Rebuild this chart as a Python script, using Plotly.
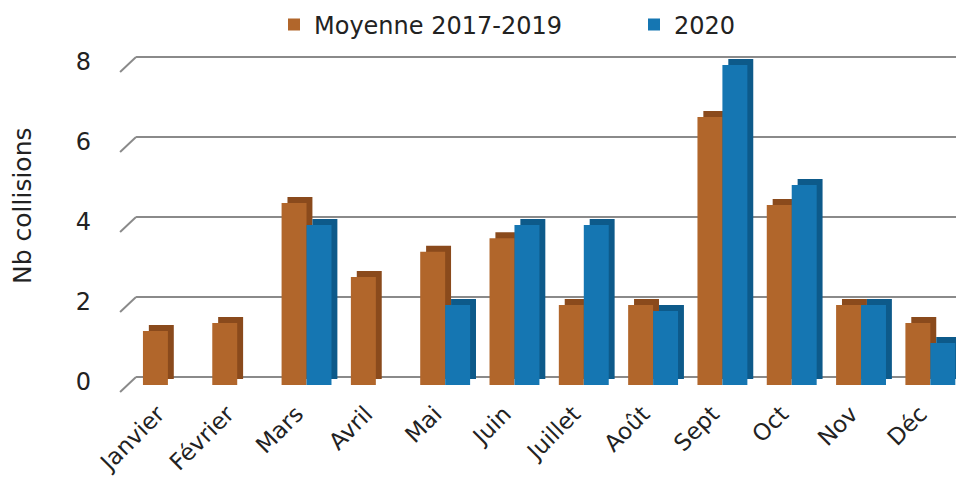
import plotly.graph_objects as go

months = ["Janvier", "Février", "Mars", "Avril", "Mai", "Juin", "Juillet",
          "Août", "Sept", "Oct", "Nov", "Déc"]
moyenne = [1.35, 1.55, 4.55, 2.7, 3.33, 3.67, 2.0, 2.0, 6.7, 4.5, 2.0, 1.55]
y2020 = [0.0, None, 4.0, None, 2.0, 4.0, 4.0, 1.85, 8.0, 5.0, 2.0, 1.05]
yticks = [0, 2, 4, 6, 8]

FONT = "DejaVu Sans"
TXT = "#222222"
ORANGE, ORANGE_D = "#B1662B", "#8A4A1C"
BLUE, BLUE_D = "#1576B2", "#0D5A8A"
BW = 0.36       # bar width (category units)
DX = 0.085      # depth offset x
DY = 0.15       # depth offset y

fig = go.Figure()

def add_series(vals, name, color, dark, off, legend):
    # depth (side/top) face
    fig.add_trace(go.Bar(x=months, y=vals, base=DY, offset=off + DX, width=BW,
                         marker=dict(color=dark, line=dict(width=0)),
                         showlegend=False, hoverinfo="skip"))
    # front face
    fig.add_trace(go.Bar(x=months, y=vals, offset=off, width=BW, name=name,
                         legend=legend,
                         marker=dict(color=color, line=dict(width=0))))

add_series(moyenne, "Moyenne 2017-2019", ORANGE, ORANGE_D, -BW, "legend")
add_series(y2020, "2020", BLUE, BLUE_D, 0.0, "legend2")

# 3D-style gridlines (back wall + left floor diagonal)
shapes = []
for t in yticks:
    shapes.append(dict(type="line", xref="x", yref="y", layer="below",
                       x0=-0.69, y0=t - 0.175, x1=-0.46, y1=t + 0.2,
                       line=dict(color="#8a8a8a", width=2)))
    shapes.append(dict(type="line", xref="x", yref="y", layer="below",
                       x0=-0.46, y0=t + 0.2, x1=11.6, y1=t + 0.2,
                       line=dict(color="#8a8a8a", width=2)))

leg_common = dict(orientation="h", yref="container", y=1 - 25 / 480, yanchor="middle",
                  xref="container", xanchor="left",
                  font=dict(family=FONT, size=24, color=TXT), bgcolor="rgba(0,0,0,0)")

fig.update_layout(
    width=956, height=480,
    margin=dict(l=118, r=0, t=45, b=82, autoexpand=False),
    paper_bgcolor="white", plot_bgcolor="white",
    barmode="overlay",
    shapes=shapes,
    font=dict(family=FONT, size=24, color=TXT),
    showlegend=True,
    legend=dict(x=274 / 956, **leg_common),
    legend2=dict(x=634 / 956, **leg_common),
    xaxis=dict(type="category", range=[-0.72, 11.37], tickangle=-45,
               showgrid=False, zeroline=False, showline=False, ticks="",
               automargin=False, ticklabelshift=-10, ticklabelstandoff=-3,
               tickfont=dict(size=23, color=TXT)),
    yaxis=dict(range=[-0.325, 8.5], tickvals=yticks, showgrid=False,
               zeroline=False, showline=False, ticks="", ticklabelstandoff=26,
               automargin=False, ticklabelshift=-3, tickfont=dict(size=24, color=TXT)),
    annotations=[dict(text="Nb collisions", textangle=-90, xref="paper", yref="paper",
                      x=-0.133, y=0.544, showarrow=False,
                      font=dict(size=25, color=TXT))],
)

fig.write_html("out.html", config={"displayModeBar": False},
               post_script="document.body.style.margin='0px';")
